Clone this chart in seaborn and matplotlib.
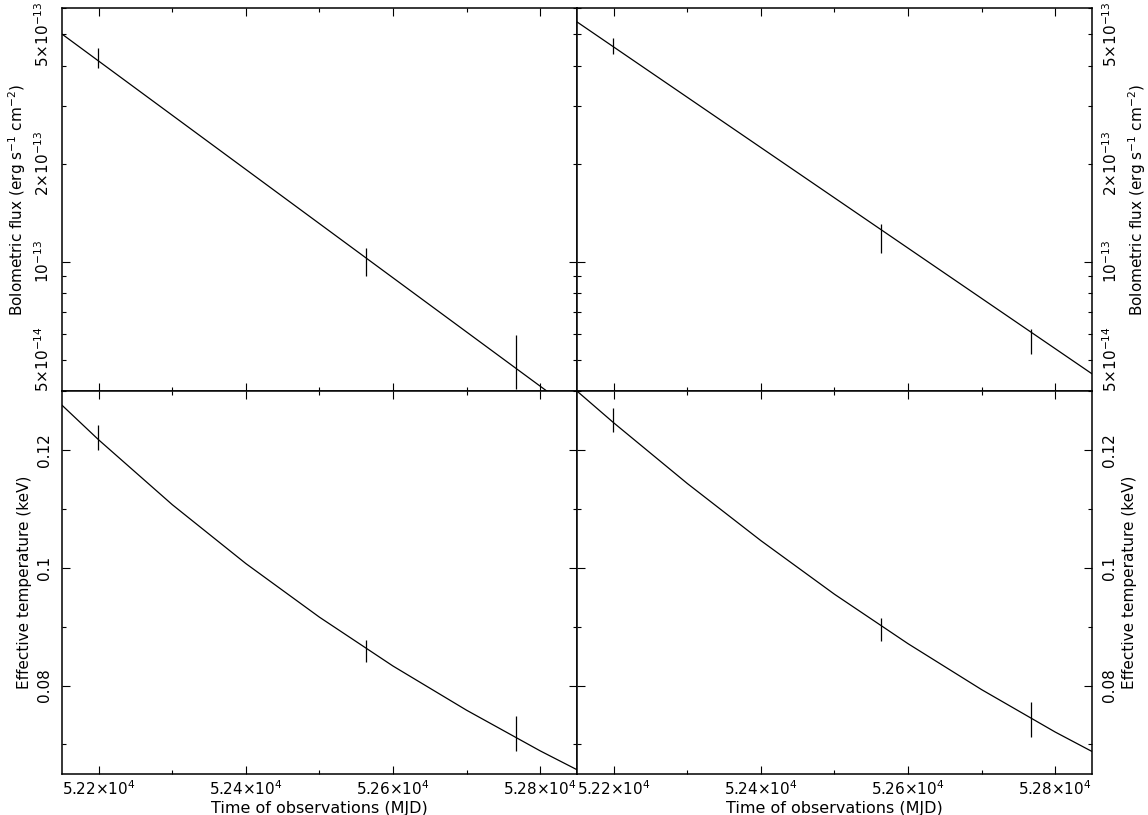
import numpy as np
import pandas as pd
import matplotlib
matplotlib.use("Agg")
import matplotlib.pyplot as plt
import matplotlib.ticker as mticker
import seaborn as sns

# observation epochs (MJD)
mjd = [52199, 52563, 52767]

# bolometric flux (erg/s/cm2) with errors, left and right model
flux_l = [4.22e-13, 1.00e-13, 5.0e-14]
flux_l_err = [0.30e-13, 0.10e-13, 0.95e-14]
flux_r = [4.60e-13, 1.18e-13, 5.7e-14]
flux_r_err = [0.25e-13, 0.12e-13, 0.50e-14]

# effective temperature (keV) with errors
temp_l = [0.1221, 0.0859, 0.0718]
temp_l_err = [0.0021, 0.0019, 0.0030]
temp_r = [0.1251, 0.0895, 0.0742]
temp_r_err = [0.0020, 0.0020, 0.0030]

# fitted cooling curves
fit_flux_x_l = [52150, 52809]
fit_flux_l = [5.0e-13, 4.0e-14]
fit_flux_x_r = [52150, 52850]
fit_flux_r = [5.45e-13, 4.52e-14]

fit_t_x = [52150, 52200, 52300, 52400, 52500, 52600, 52700, 52800, 52850]
fit_t_l = [0.1276, 0.1217, 0.1107, 0.1007, 0.0916, 0.0833, 0.0758, 0.0689, 0.0657]
fit_t_r = [0.1300, 0.1246, 0.1143, 0.1046, 0.0955, 0.0871, 0.0793, 0.0721, 0.0688]

sns.set_style("ticks")
plt.rcParams['font.family'] = ['DejaVu Sans']
plt.rcParams['mathtext.fontset'] = 'dejavusans'
plt.rcParams['text.color'] = 'black'
plt.rcParams['axes.labelcolor'] = 'black'
plt.rcParams['xtick.color'] = 'black'
plt.rcParams['ytick.color'] = 'black'

fig = plt.figure(figsize=(11.48, 8.15), dpi=100)
gs = fig.add_gridspec(2, 2, left=0.054, right=0.9512, bottom=0.0505, top=0.9898,
                      wspace=0, hspace=0)
axes = [[fig.add_subplot(gs[r, c]) for c in range(2)] for r in range(2)]

flux_lab = r"Bolometric flux (erg s$^{-1}$ cm$^{-2}$)"
temp_lab = "Effective temperature (keV)"


def flux_fmt(v, pos):
    labels = {5e-14: "5×10$^{-14}$", 1e-13: "10$^{-13}$",
              2e-13: "2×10$^{-13}$", 5e-13: "5×10$^{-13}$"}
    for k, s in labels.items():
        if abs(v - k) / k < 1e-3:
            return s
    return ""


def mjd_fmt(v, pos):
    return "%.2f×10$^{4}$" % (v / 1e4)


panels = [
    (axes[0][0], fit_flux_x_l, fit_flux_l, flux_l, flux_l_err, "flux", "left"),
    (axes[0][1], fit_flux_x_r, fit_flux_r, flux_r, flux_r_err, "flux", "right"),
    (axes[1][0], fit_t_x, fit_t_l, temp_l, temp_l_err, "temp", "left"),
    (axes[1][1], fit_t_x, fit_t_r, temp_r, temp_r_err, "temp", "right"),
]

for ax, fx, fy, yv, ye, kind, side in panels:
    df = pd.DataFrame({"x": fx, "y": fy})
    sns.lineplot(data=df, x="x", y="y", ax=ax, color="black", lw=0.9,
                 estimator=None, sort=False)
    ax.errorbar(mjd, yv, yerr=ye, fmt="none", ecolor="black", elinewidth=0.9, capsize=0)
    ax.set_xlim(52150, 52850)
    ax.xaxis.set_major_locator(mticker.MultipleLocator(200))
    ax.xaxis.set_minor_locator(mticker.MultipleLocator(100))
    ax.xaxis.set_major_formatter(mticker.FuncFormatter(mjd_fmt))
    if kind == "flux":
        ax.set_yscale("log")
        ax.set_ylim(4e-14, 6e-13)
        ax.yaxis.set_major_locator(mticker.LogLocator(base=10, numticks=10))
        ax.yaxis.set_minor_locator(mticker.LogLocator(base=10, subs=np.arange(2, 10), numticks=20))
        ax.yaxis.set_major_formatter(mticker.FuncFormatter(flux_fmt))
        ax.yaxis.set_minor_formatter(mticker.FuncFormatter(flux_fmt))
        ax.set_ylabel(flux_lab, fontsize=11)
        ax.set_xlabel("")
    else:
        ax.set_ylim(0.065, 0.13)
        ax.yaxis.set_major_locator(mticker.FixedLocator([0.08, 0.1, 0.12]))
        ax.yaxis.set_minor_locator(mticker.MultipleLocator(0.01))
        ax.yaxis.set_major_formatter(mticker.FixedFormatter(["0.08", "0.1", "0.12"]))
        ax.set_ylabel(temp_lab, fontsize=11)
        ax.set_xlabel("Time of observations (MJD)", fontsize=11.5, labelpad=2)

    ax.tick_params(which="both", direction="in", top=True, right=True, bottom=True, left=True,
                   color="black", width=0.8, labelsize=11)
    ax.tick_params(which="major", length=5.5)
    ax.tick_params(which="minor", length=2.8)
    ax.tick_params(axis="y", which="both", labelrotation=90, pad=7)
    ax.tick_params(axis="x", which="both", pad=4, labelbottom=(kind == "temp"))
    if side == "left":
        ax.tick_params(axis="y", which="both", labelleft=True, labelright=False)
        ax.yaxis.set_label_position("left")
    else:
        ax.tick_params(axis="y", which="both", labelleft=False, labelright=True)
        ax.yaxis.set_label_position("right")
    for lab in ax.get_yticklabels(which="both"):
        lab.set_va("center")
    for sp in ax.spines.values():
        sp.set_linewidth(1.1)
        sp.set_color("black")

fig.savefig("out.png", dpi=100, facecolor="white")
